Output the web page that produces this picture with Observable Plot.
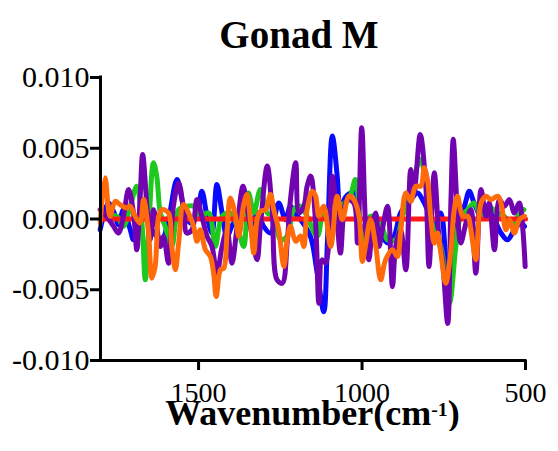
<!DOCTYPE html>
<html><head><meta charset="utf-8">
<script src="https://cdn.jsdelivr.net/npm/d3@7"></script>
<script src="https://cdn.jsdelivr.net/npm/@observablehq/plot@0.6"></script>
<style>
body{margin:0;background:#fff;width:558px;font-family:'Liberation Serif','Times New Roman',serif;color:#000;}
#title{font-size:39px;font-weight:bold;line-height:44px;height:44px;padding-top:13px;padding-left:40px;text-align:center;}
#xlabel{font-size:36px;font-weight:bold;line-height:36px;height:36px;margin-top:-11px;padding-left:100px;padding-right:33px;text-align:center;white-space:nowrap;}
#xlabel .sup{font-size:55%;position:relative;top:-9px;}
svg{display:block;}
</style></head><body>
<div id="title">Gonad M</div>
<div id="chart"></div>
<div id="xlabel">Wavenumber(cm<span class="sup">-1</span>)</div>
<script>
const xDomain = [1800, 500];
const yDomain = [-0.010, 0.010];
const xTicks = [1500, 1000, 500];
const yTicks = [-0.010, -0.005, 0.000, 0.005, 0.010];

const blue = [[1801,-0.00076],[1776,0.00113],[1760,0.00054],[1745,-0.00040],[1730,0.00066],[1709,-0.00076],[1699,-0.00147],[1684,-0.00052],[1668,0.00019],[1648,-0.00052],[1628,-0.00123],[1612,-0.00147],[1592,-0.00005],[1566,0.00279],[1546,0.00090],[1525,-0.00028],[1505,0.00019],[1490,0.00196],[1474,0.00019],[1459,-0.00099],[1444,0.00243],[1428,0.00043],[1413,-0.00123],[1393,-0.00028],[1367,0.00019],[1341,-0.00052],[1321,0.00043],[1301,-0.00052],[1280,-0.00099],[1255,0.00113],[1234,-0.00005],[1219,0.00090],[1198,0.00019],[1188,-0.00005],[1158,-0.00123],[1137,-0.00383],[1117,-0.00655],[1106,-0.00170],[1091,0.00586],[1076,0.00303],[1066,-0.00052],[1055,0.00137],[1035,0.00184],[1020,0.00184],[1004,-0.00052],[984,-0.00099],[963,-0.00005],[943,-0.00099],[922,-0.00170],[902,-0.00123],[882,0.00043],[851,0.00137],[830,0.00184],[815,0.00137],[800,0.00066],[779,-0.00052],[759,0.00043],[738,-0.00383],[718,-0.00194],[703,0.00019],[687,0.00090],[672,0.00196],[657,0.00113],[636,0.00019],[616,0.00066],[595,-0.00005],[575,-0.00099],[555,-0.00147],[534,-0.00076],[514,-0.00028],[503,-0.00052]];

const green = [[1801,-0.00005],[1781,0.00019],[1750,0.00019],[1730,-0.00052],[1709,0.00090],[1689,0.00232],[1674,-0.00005],[1663,-0.00430],[1653,-0.00099],[1638,0.00397],[1628,0.00303],[1617,0.00043],[1602,-0.00052],[1582,-0.00194],[1561,0.00066],[1536,0.00090],[1515,0.00090],[1495,0.00019],[1469,0.00043],[1449,-0.00194],[1428,0.00019],[1403,0.00043],[1382,-0.00052],[1362,-0.00194],[1347,0.00184],[1331,0.00043],[1311,0.00208],[1290,0.00043],[1270,0.00019],[1249,-0.00147],[1229,-0.00123],[1209,0.00066],[1188,0.00090],[1168,0.00019],[1137,-0.00123],[1117,0.00066],[1091,-0.00052],[1066,0.00090],[1040,0.00137],[1020,0.00279],[999,-0.00194],[974,0.00019],[948,-0.00005],[922,-0.00147],[897,-0.00147],[876,0.00019],[851,0.00184],[822,0.00421],[800,0.00184],[779,-0.00099],[759,-0.00194],[733,-0.00596],[713,-0.00194],[698,0.00019],[677,0.00066],[657,0.00113],[636,0.00019],[616,0.00090],[585,0.00043],[565,0.00019],[539,-0.00052],[524,0.00019],[505,0.00066]];

const red = [[1800,0],[500,0]];

const purple = [[1801,0.00066],[1781,0.00019],[1760,-0.00052],[1745,-0.00099],[1730,0.00019],[1714,0.00208],[1699,0.00043],[1689,-0.00217],[1679,0.00137],[1671,0.00456],[1658,0.00090],[1648,-0.00147],[1638,0.00066],[1628,-0.00052],[1617,-0.00194],[1607,-0.00123],[1592,-0.00312],[1577,0.00090],[1561,0.00255],[1546,0.00066],[1536,-0.00099],[1520,-0.00076],[1505,0.00137],[1490,0.00019],[1474,-0.00123],[1459,-0.00194],[1444,-0.00383],[1428,-0.00194],[1413,-0.00076],[1398,-0.00312],[1382,-0.00052],[1364,0.00232],[1352,0.00090],[1336,-0.00123],[1321,-0.00288],[1311,-0.00052],[1290,0.00374],[1275,0.00066],[1260,-0.00430],[1244,-0.00454],[1229,-0.00170],[1219,0.00137],[1203,0.00397],[1193,0.00043],[1178,0.00090],[1168,0.00232],[1157,0.00303],[1142,-0.00028],[1132,-0.00596],[1122,-0.00288],[1111,-0.00312],[1091,0.00303],[1076,-0.00028],[1066,-0.00241],[1055,0.00066],[1045,0.00137],[1025,0.00113],[1014,-0.00170],[1001,0.00645],[989,-0.00052],[979,-0.00288],[968,-0.00052],[958,0.00043],[948,-0.00194],[938,-0.00076],[922,0.00090],[907,-0.00478],[897,-0.00194],[882,-0.00076],[866,-0.00359],[851,0.00350],[841,0.00184],[822,0.00598],[805,0.00232],[795,-0.00336],[779,0.00326],[764,-0.00147],[754,-0.00288],[738,-0.00738],[728,0.00137],[721,0.00563],[708,0.00043],[698,-0.00170],[682,-0.00028],[667,0.00066],[652,-0.00383],[636,0.00208],[621,0.00019],[611,0.00113],[595,-0.00217],[580,0.00137],[565,0.00090],[549,0.00137],[534,0.00043],[519,0.00113],[509,-0.00052],[501,-0.00336]];

const orange = [[1801,-0.00028],[1786,0.00291],[1771,0.00019],[1755,0.00125],[1740,0.00102],[1720,0.00078],[1709,0.00090],[1694,0.00019],[1679,-0.00028],[1668,0.00137],[1653,-0.00099],[1643,-0.00418],[1633,-0.00336],[1622,0.00019],[1612,0.00066],[1592,0.00043],[1582,-0.00194],[1571,-0.00359],[1561,-0.00170],[1546,0.00102],[1531,0.00043],[1515,-0.00052],[1505,-0.00158],[1495,-0.00076],[1479,-0.00217],[1464,-0.00265],[1454,-0.00383],[1446,-0.00548],[1433,-0.00359],[1423,-0.00348],[1413,-0.00099],[1403,0.00149],[1387,0.00019],[1377,-0.00123],[1362,0.00102],[1352,0.00173],[1341,-0.00028],[1331,-0.00241],[1321,-0.00005],[1311,0.00054],[1295,0.00066],[1280,0.00173],[1270,0.00066],[1255,-0.00076],[1239,-0.00336],[1229,-0.00147],[1219,-0.00052],[1203,-0.00158],[1188,-0.00120],[1178,-0.00194],[1168,0.00066],[1152,0.00196],[1142,0.00161],[1132,0.00019],[1117,0.00090],[1096,-0.00194],[1076,0.00161],[1060,-0.00005],[1040,0.00161],[1025,0.00137],[1009,0.00019],[999,-0.00300],[989,-0.00182],[974,-0.00005],[958,-0.00194],[943,-0.00430],[928,-0.00288],[907,-0.00217],[892,-0.00265],[882,-0.00099],[866,0.00184],[851,0.00125],[836,0.00232],[820,0.00232],[810,0.00362],[800,0.00279],[790,0.00019],[779,-0.00170],[769,-0.00099],[759,-0.00241],[744,-0.00454],[728,-0.00217],[718,0.00066],[708,0.00161],[692,0.00019],[677,0.00019],[667,-0.00076],[652,-0.00288],[636,0.00113],[621,0.00161],[606,0.00137],[585,0.00161],[575,0.00113],[560,-0.00076],[549,-0.00005],[534,-0.00099],[519,-0.00005],[503,0.00019]];

const series = [
  {data: blue, color: "#0a0aff"},
  {data: green, color: "#1ec81e"},
  {data: red, color: "#ff1a1a"},
  {data: purple, color: "#7204b0"},
  {data: orange, color: "#ff6a0a"}
];

const chart = Plot.plot({
  width: 558, height: 349,
  marginLeft: 100, marginRight: 33, marginTop: 20, marginBottom: 46,
  style: {fontFamily: "'Liberation Serif','Times New Roman',serif", fontSize: "28px", background: "white", color: "black", overflow: "visible"},
  x: {domain: xDomain},
  y: {domain: yDomain},
  marks: [
    ...series.map(s => Plot.line(s.data, {x: d => d[0], y: d => d[1], stroke: s.color, strokeWidth: 5, curve: "catmull-rom", strokeLinejoin: "round", strokeLinecap: "round"})),
    Plot.ruleY([yDomain[0]], {stroke: "black", strokeWidth: 3, strokeLinecap: "square"}),
    Plot.ruleX([xDomain[0]], {stroke: "black", strokeWidth: 3, strokeLinecap: "square"}),
    Plot.axisX({ticks: xTicks, tickSize: 10, tickPadding: 12, strokeWidth: 3, fontSize: 28, label: null, tickFormat: d => String(d)}),
    Plot.axisY({ticks: yTicks, tickSize: 10, tickPadding: 1, strokeWidth: 3, fontSize: 30, label: null, tickFormat: d => d.toFixed(3)})
  ]
});
document.getElementById("chart").appendChild(chart);
</script>
</body></html>
